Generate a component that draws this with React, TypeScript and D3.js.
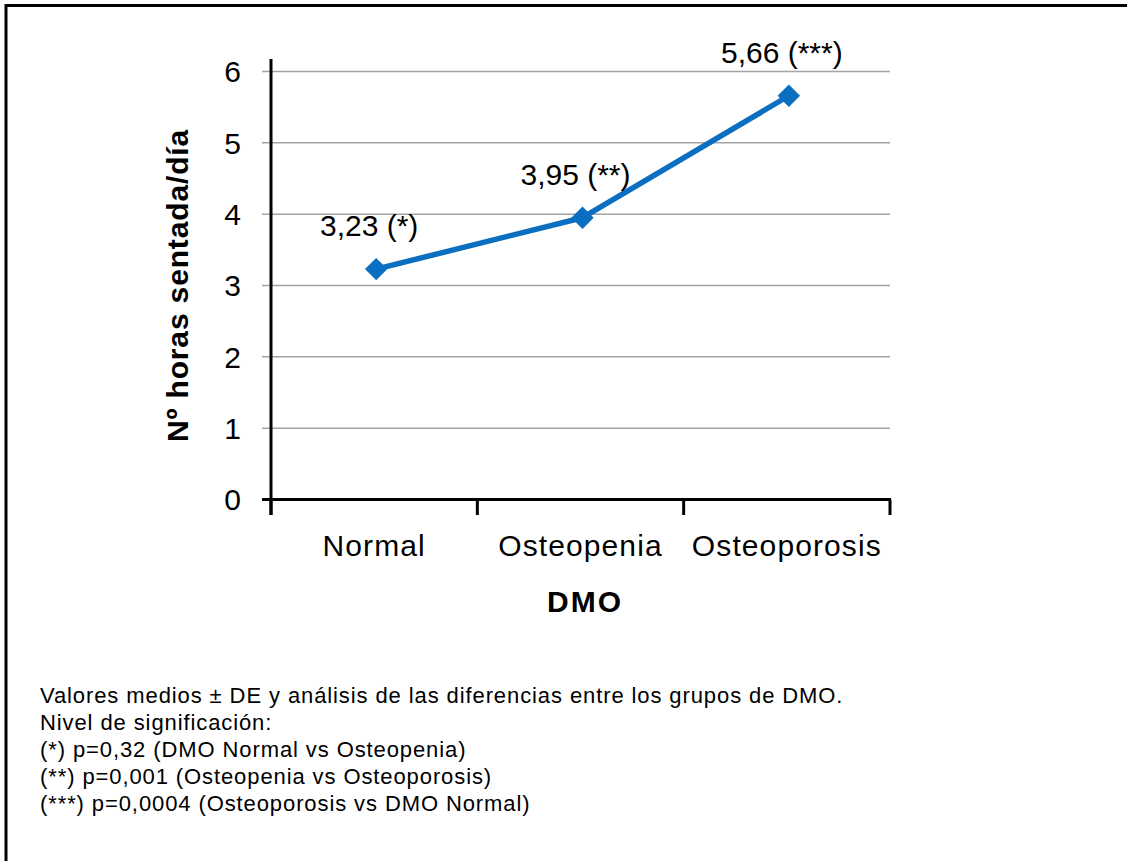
import React from "react";
import * as d3 from "d3";

const categories = ["Normal", "Osteopenia", "Osteoporosis"];
const values = [3.23, 3.95, 5.66];
const pointLabels = ["3,23 (*)", "3,95 (**)", "5,66 (***)"];
const yTicks = [0, 1, 2, 3, 4, 5, 6];
const notes = [
  "Valores medios ± DE y análisis de las diferencias entre los grupos de DMO.",
  "Nivel de significación:",
  "(*) p=0,32 (DMO Normal vs Osteopenia)",
  "(**) p=0,001 (Osteopenia vs Osteoporosis)",
  "(***) p=0,0004 (Osteoporosis vs DMO Normal)",
];

const FONT = "'Liberation Sans', Arial, Helvetica, sans-serif";
const BLUE = "#0A6FC0";

export default function App() {
  const x0 = 271, x1 = 890, yTop = 71.5, yBot = 499.5;
  const x = d3.scaleBand<string>().domain(categories).range([x0, x1]);
  const y = d3.scaleLinear().domain([0, 6]).range([yBot, yTop]);
  const cx = (c: string) => (x(c) as number) + x.bandwidth() / 2 + 2;
  const line = d3
    .line<number>()
    .x((_, i) => cx(categories[i]))
    .y((v) => y(v));
  const diamond = d3.symbol().type(d3.symbolDiamond2).size(320)();
  const xTickPos = [...categories.map((c) => x(c) as number), x1];

  return (
    <svg
      width={1127}
      height={861}
      style={{ position: "absolute", left: 0, top: 0, background: "#fff" }}
      fontFamily={FONT}
    >
      <rect x={6} y={5.5} width={1300} height={1000} fill="#fff" stroke="#000" strokeWidth={3} />
      {yTicks.filter((t) => t > 0).map((t) => (
        <line key={t} x1={262} x2={x1} y1={y(t)} y2={y(t)} stroke="#a3a3a3" strokeWidth={1.5} />
      ))}
      {yTicks.map((t) => (
        <text key={"l" + t} x={241} y={y(t)} dy="0.36em" textAnchor="end" fontSize={30} fill="#000">
          {t}
        </text>
      ))}
      <line x1={262} x2={x0} y1={y(0)} y2={y(0)} stroke="#000" strokeWidth={3} />
      <line x1={x0} x2={x0} y1={59} y2={515} stroke="#000" strokeWidth={3} />
      <line x1={x0} x2={x1 + 1} y1={y(0)} y2={y(0)} stroke="#000" strokeWidth={3} />
      {xTickPos.map((p, i) => (
        <line key={"xt" + i} x1={p} x2={p} y1={y(0)} y2={515} stroke="#000" strokeWidth={3} />
      ))}
      {categories.map((c) => (
        <text key={c} x={(x(c) as number) + x.bandwidth() / 2} y={556} textAnchor="middle" fontSize={30} letterSpacing={1.1} fill="#000">
          {c}
        </text>
      ))}
      <text x={585} y={612} textAnchor="middle" fontSize={30} fontWeight="bold" letterSpacing={2} fill="#000">
        DMO
      </text>
      <text
        transform={`translate(188,${(yTop + yBot) / 2}) rotate(-90)`}
        textAnchor="middle"
        fontSize={30}
        fontWeight="bold"
        letterSpacing={0.85}
        fill="#000"
      >
        Nº horas sentada/día
      </text>
      <path d={line(values) || ""} fill="none" stroke={BLUE} strokeWidth={5.5} strokeLinejoin="round" />
      {values.map((v, i) => (
        <path key={"m" + i} d={diamond || ""} transform={`translate(${cx(categories[i])},${y(v)})`} fill={BLUE} />
      ))}
      {values.map((v, i) => (
        <text
          key={"pl" + i}
          x={cx(categories[i]) - 7}
          y={y(v) - 33}
          textAnchor="middle"
          fontSize={30}
          fill="#000"
        >
          {pointLabels[i]}
        </text>
      ))}
      {notes.map((n, i) => (
        <text key={"n" + i} x={40} y={703 + i * 27} fontSize={22} letterSpacing={0.9} fill="#000">
          {n}
        </text>
      ))}
    </svg>
  );
}
